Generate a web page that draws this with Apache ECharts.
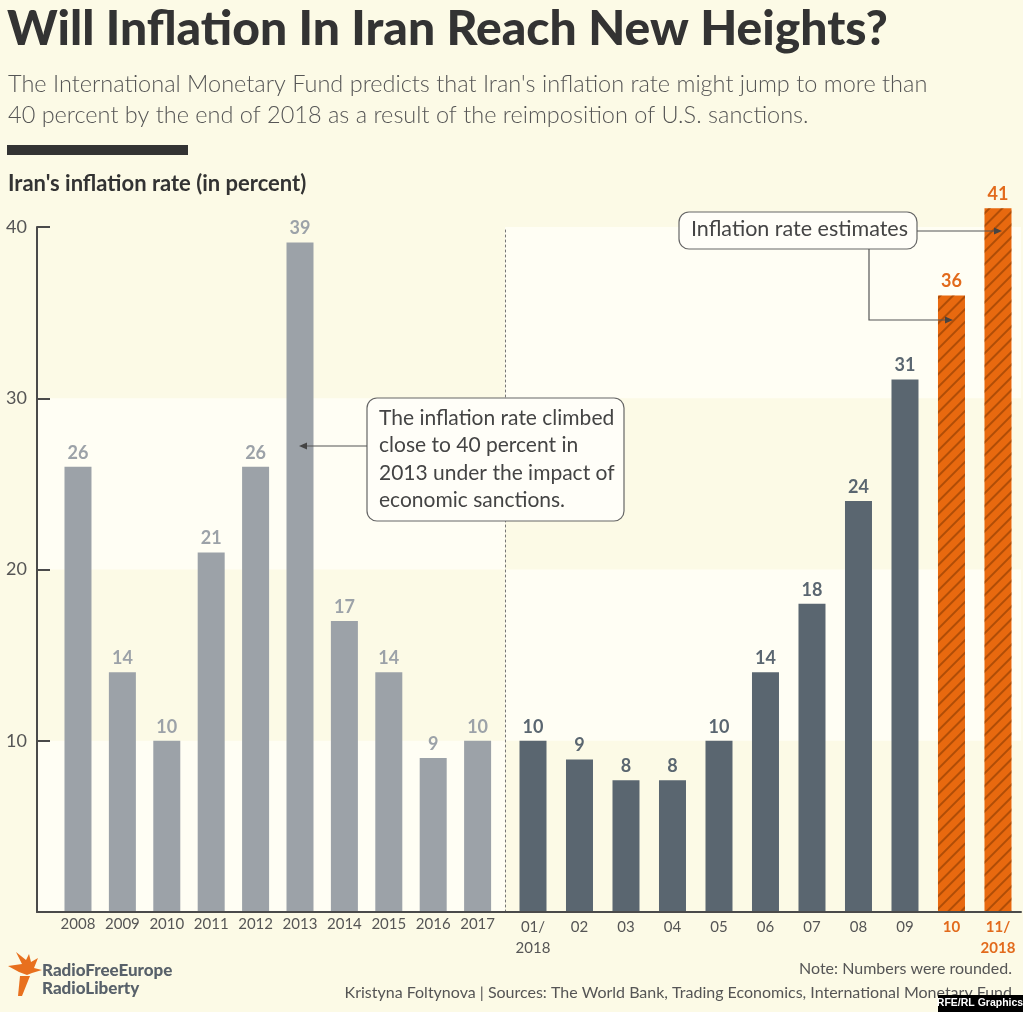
<!DOCTYPE html>
<html><head><meta charset="utf-8">
<script src="https://cdn.jsdelivr.net/npm/echarts@6/dist/echarts.min.js"></script>
<style>html,body{margin:0;padding:0;background:#fcfae6;}#c{width:1023px;height:1012px;}</style>
</head><body><div id="c"></div>
<script>
// ---- data ----
const yearCats = ['2008','2009','2010','2011','2012','2013','2014','2015','2016','2017'];
const yearVals = [26, 14, 10, 21, 26, 39.1, 17, 14, 9, 10];
const monthCats = ['01/\n2018','02','03','04','05','06','07','08','09','10','11/\n2018'];
const monthVals = [10, 8.9, 7.7, 7.7, 10, 14, 18, 24, 31.1, 36, 41.1];
const estimateFrom = 9; // index in monthCats where IMF estimates start
const yTicks = [0, 10, 20, 30, 40];

const BG = '#fcfae6', BAND = '#fffef4';
const GRAY = '#9ca2a8', SLATE = '#5a6670', ORANGE = '#e8690f', TXT = '#555555';

const chart = echarts.init(document.getElementById('c'), null, {renderer: 'canvas'});

const leftData = yearVals.map((v, i) => [i, v]);
const rightData = monthVals.map((v, i) => {
  const est = i >= estimateFrom;
  return {
    value: [i, v],
    itemStyle: est ? {
      color: ORANGE,
      decal: {symbol: 'rect', symbolSize: 1, dashArrayX: [1, 0], dashArrayY: [1.2, 6.5], rotation: -Math.PI / 4, color: 'rgba(130,55,0,0.55)'}
    } : {color: SLATE},
    label: {color: est ? '#e26a1c' : SLATE}
  };
});

const labelStyle = {show: true, position: 'top', distance: 5, fontFamily: 'Lato', fontWeight: 'bold', fontSize: 18,
  formatter: p => Math.round(p.value[1])};

const option = {
  backgroundColor: BG,
  animation: false,
  grid: [
    {left: 37, width: 468, top: 227, bottom: 100},
    {left: 505, right: 2, top: 227, bottom: 100}
  ],
  xAxis: [
    {gridIndex: 0, type: 'value', min: -0.923, max: 9.617, z: 5,
      axisLine: {show: true, onZero: false, lineStyle: {color: '#4a4a4a', width: 2}},
      axisTick: {show: false}, splitLine: {show: false},
      axisLabel: {customValues: yearCats.map((c, i) => i), formatter: v => yearCats[Math.round(v)],
        color: TXT, fontFamily: 'Lato', fontSize: 15, margin: 5, showMinLabel: true, showMaxLabel: true}},
    {gridIndex: 1, type: 'value', min: -0.602, max: 10.495, z: 5,
      axisLine: {show: true, onZero: false, lineStyle: {color: '#4a4a4a', width: 2}},
      axisTick: {show: false}, splitLine: {show: false},
      axisLabel: {customValues: monthCats.map((c, i) => i),
        formatter: v => { const i = Math.round(v); const s = monthCats[i];
          return i >= estimateFrom ? s.split('\n').map(t => '{o|' + t + '}').join('\n') : s; },
        color: TXT, fontFamily: 'Lato', fontSize: 15, margin: 5, lineHeight: 21,
        rich: {o: {color: '#e26a1c', fontWeight: 'bold', fontFamily: 'Lato', fontSize: 15, lineHeight: 21}}}}
  ],
  yAxis: [
    {gridIndex: 0, type: 'value', min: 0, max: 40, interval: 10, z: 5,
      axisLine: {show: true, onZero: false, lineStyle: {color: '#4a4a4a', width: 2}},
      axisTick: {show: true, inside: true, length: 13, lineStyle: {color: '#4a4a4a', width: 2}},
      splitLine: {show: false},
      axisLabel: {color: TXT, fontFamily: 'Lato', fontSize: 18, margin: 10, formatter: v => v === 0 ? '' : v}},
    {gridIndex: 1, type: 'value', min: 0, max: 40, interval: 10, z: 5,
      axisLine: {show: true, onZero: false, lineStyle: {color: '#777', width: 1, type: [2, 3]}},
      axisTick: {show: false}, splitLine: {show: false}, axisLabel: {show: false}}
  ],
  series: [
    {type: 'bar', xAxisIndex: 0, yAxisIndex: 0, barWidth: 27, clip: false,
      itemStyle: {color: GRAY}, data: leftData,
      label: Object.assign({}, labelStyle, {color: GRAY}),
      markArea: {silent: true, itemStyle: {color: BAND}, label: {show: false},
        data: [[{yAxis: yTicks[0]}, {yAxis: yTicks[1]}], [{yAxis: yTicks[2]}, {yAxis: yTicks[3]}]]}},
    {type: 'bar', xAxisIndex: 1, yAxisIndex: 1, barWidth: 27, clip: false,
      data: rightData, label: labelStyle,
      markArea: {silent: true, itemStyle: {color: BAND}, label: {show: false},
        data: [[{yAxis: yTicks[1]}, {yAxis: yTicks[2]}], [{yAxis: yTicks[3]}, {yAxis: yTicks[4]}]]}}
  ],
  graphic: [
    {type: 'text', left: 7, top: 6, style: {text: 'Will Inflation In Iran Reach New Heights?', fill: '#333', font: '900 48px Lato'}},
    {type: 'text', left: 8, top: 69, style: {text: "The International Monetary Fund predicts that Iran's inflation rate might jump to more than\n40 percent by the end of 2018 as a result of the reimposition of U.S. sanctions.", fill: '#555', font: '300 23.5px Lato', lineHeight: 31}},
    {type: 'rect', shape: {x: 7, y: 145, width: 181, height: 10}, style: {fill: '#333'}},
    {type: 'text', left: 8, top: 173, style: {text: "Iran's inflation rate (in percent)", fill: '#333', font: 'bold 22px Lato'}},
    // annotation 1
    {type: 'rect', shape: {x: 367, y: 398, width: 257, height: 123, r: 10}, style: {fill: '#fffef8', stroke: '#666', lineWidth: 1.2}, z: 10},
    {type: 'text', x: 379, y: 404, style: {text: 'The inflation rate climbed\nclose to 40 percent in\n2013 under the impact of\neconomic sanctions.', fill: '#444', font: '21px Lato', lineHeight: 27.5}, z: 11},
    {type: 'line', shape: {x1: 367, y1: 446, x2: 304, y2: 446}, style: {stroke: '#555', lineWidth: 1.2}, z: 10},
    {type: 'polygon', shape: {points: [[299, 446], [307, 442.5], [307, 449.5]]}, style: {fill: '#444'}, z: 10},
    // annotation 2
    {type: 'rect', shape: {x: 679, y: 212, width: 238, height: 37, r: 10}, style: {fill: '#fffef8', stroke: '#666', lineWidth: 1.2}, z: 10},
    {type: 'text', x: 691, y: 218, style: {text: 'Inflation rate estimates', fill: '#444', font: '21.5px Lato'}, z: 11},
    {type: 'polyline', shape: {points: [[917, 231], [996, 231]]}, style: {stroke: '#555', lineWidth: 1.2, fill: null}, z: 10},
    {type: 'polygon', shape: {points: [[1002, 231], [994, 227.5], [994, 234.5]]}, style: {fill: '#444'}, z: 10},
    {type: 'polyline', shape: {points: [[869, 249], [869, 320], [947, 320]]}, style: {stroke: '#555', lineWidth: 1.2, fill: null}, z: 10},
    {type: 'polygon', shape: {points: [[953, 320], [945, 316.5], [945, 323.5]]}, style: {fill: '#444'}, z: 10},
    // footer
    {type: 'group', x: 8, y: 952, children: [
      {type: 'polygon', shape: {points: [[14, 12], [8, 0], [18, 8], [21, 2], [23, 10], [30, 6], [26, 16], [34, 18], [24, 21], [19, 23], [11, 20], [0, 14]]}, style: {fill: '#e8701e'}},
      {type: 'polygon', shape: {points: [[12, 24], [22, 24], [14, 44], [10, 44]]}, style: {fill: '#e8701e'}}
    ]},
    {type: 'text', left: 42, top: 962, style: {text: 'RadioFreeEurope\nRadioLiberty', fill: '#58616a', font: '900 17px Lato', lineHeight: 18}},
    {type: 'text', right: 11, top: 961, style: {text: 'Note: Numbers were rounded.', fill: '#555', font: '16px Lato', align: 'right'}},
    {type: 'text', right: 11, top: 985, style: {text: 'Kristyna Foltynova | Sources: The World Bank, Trading Economics, International Monetary Fund', fill: '#555', font: '16px Lato', align: 'right'}},
    {type: 'rect', shape: {x: 938, y: 995, width: 85, height: 17}, style: {fill: '#000'}, z: 20},
    {type: 'text', x: 980, y: 1003.5, style: {text: 'RFE/RL Graphics', fill: '#fff', font: 'bold 10.5px Liberation Sans', align: 'center', verticalAlign: 'middle'}, z: 21}
  ]
};
chart.setOption(option);
</script></body></html>
